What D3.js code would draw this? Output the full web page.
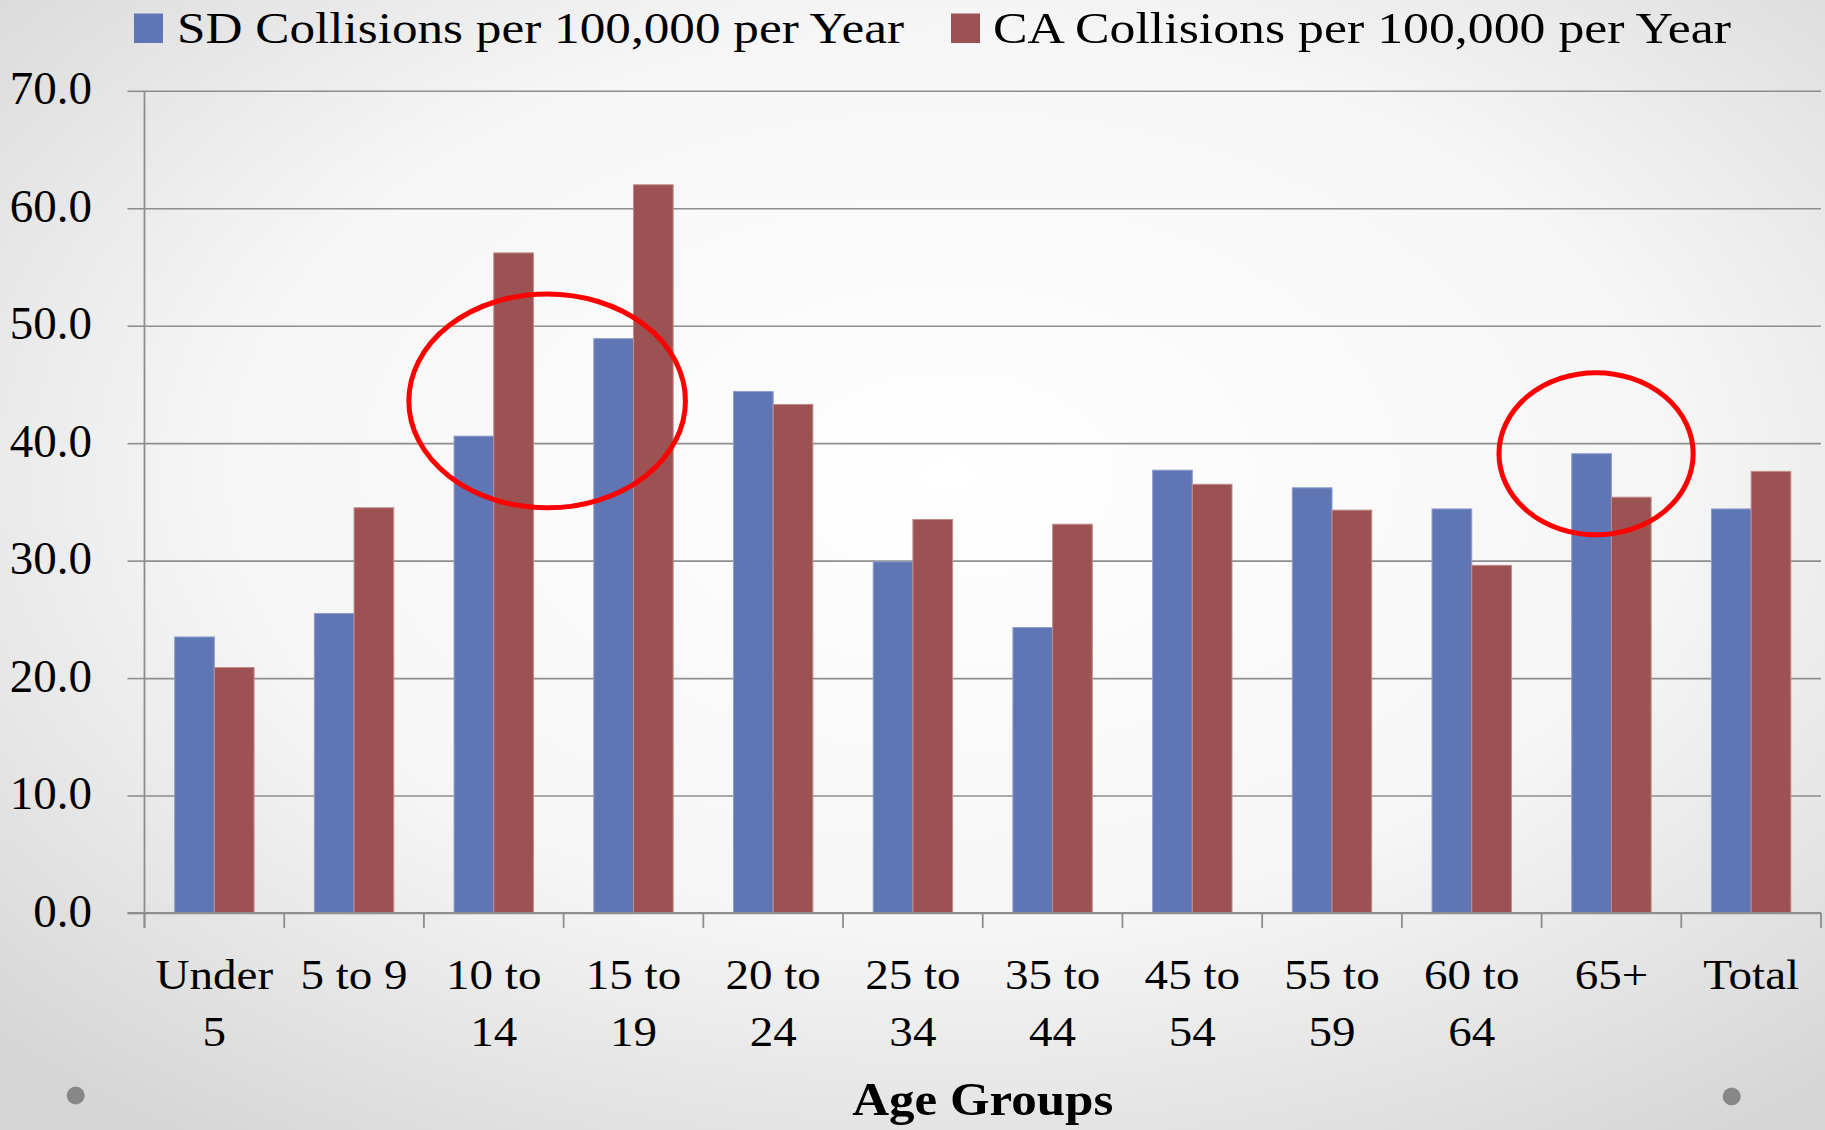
<!DOCTYPE html>
<html>
<head>
<meta charset="utf-8">
<script src="https://cdn.jsdelivr.net/npm/d3@7"></script>
<style>
  html, body { margin: 0; padding: 0; }
  svg { display: block; }
  text { font-family: "Liberation Serif", "Times New Roman", serif; fill: #000; }
</style>
</head>
<body>
<svg id="chart" width="1825" height="1130"></svg>
<script>
// Age groups along the x axis, with their two-line tick labels
const categories = ["Under 5", "5 to 9", "10 to 14", "15 to 19", "20 to 24", "25 to 34",
                    "35 to 44", "45 to 54", "55 to 59", "60 to 64", "65+", "Total"];
const tickLabels = [["Under", "5"], ["5 to 9"], ["10 to", "14"], ["15 to", "19"], ["20 to", "24"],
                    ["25 to", "34"], ["35 to", "44"], ["45 to", "54"], ["55 to", "59"],
                    ["60 to", "64"], ["65+"], ["Total"]];

// Collisions per 100,000 per year
const seriesNames = ["SD Collisions per 100,000 per Year", "CA Collisions per 100,000 per Year"];
const sdValues = [23.5, 25.5, 40.6, 48.9, 44.4, 29.9, 24.3, 37.7, 36.2, 34.4, 39.1, 34.4];
const caValues = [20.9, 34.5, 56.2, 62.0, 43.3, 33.5, 33.1, 36.5, 34.3, 29.6, 35.4, 37.6];

const yTicks = [0, 10, 20, 30, 40, 50, 60, 70];
const axisTitle = "Age Groups";

// Groups singled out with a red ring
const highlights = ["15 to 19", "65+"];

const svg = d3.select("#chart");
const W = 1825, H = 1130;

// Soft grey backdrop, lighter toward the middle
const defs = svg.append("defs");
const grad = defs.append("radialGradient").attr("id", "bg")
  .attr("cx", "52%").attr("cy", "42%").attr("r", "72%");
grad.append("stop").attr("offset", "0%").attr("stop-color", "#ffffff");
grad.append("stop").attr("offset", "55%").attr("stop-color", "#f6f6f6");
grad.append("stop").attr("offset", "100%").attr("stop-color", "#d6d6d6");
svg.append("rect").attr("width", W).attr("height", H).attr("fill", "url(#bg)");

const plot = { left: 144.5, right: 1821, top: 90.8, bottom: 913 };

const x = d3.scaleBand().domain(categories).range([plot.left, plot.right]).padding(0);
const xs = d3.scaleBand().domain(["SD", "CA"]).range([0, x.bandwidth()])
  .paddingInner(0).paddingOuter(0.76);
const y = d3.scaleLinear().domain([0, 70]).range([plot.bottom, plot.top]);

const colors = { SD: "#6076b4", CA: "#9c5252" };
const edges = { SD: "#8d9dcc", CA: "#c18c8c" };

// Horizontal gridlines with short ticks on the left
const gridG = svg.append("g")
  .attr("transform", `translate(${plot.left},0)`)
  .call(d3.axisLeft(y).tickValues(yTicks).tickSize(-(plot.right - plot.left)).tickFormat(""));
gridG.select(".domain").remove();
gridG.selectAll(".tick line").attr("stroke", "#8e8e8e").attr("stroke-width", 1.6);
gridG.selectAll(".tick").append("line")
  .attr("x1", -17).attr("x2", 0).attr("stroke", "#8e8e8e").attr("stroke-width", 1.6);

// Y tick labels
svg.append("g").selectAll("text").data(yTicks).join("text")
  .attr("x", 92).attr("y", d => y(d) + 13.5)
  .attr("text-anchor", "end")
  .attr("font-size", 47)
  .text(d => d.toFixed(1));

// Bars
const rows = categories.map((c, i) => ({ cat: c, SD: sdValues[i], CA: caValues[i] }));
const groups = svg.append("g").selectAll("g").data(rows).join("g")
  .attr("transform", d => `translate(${x(d.cat)},0)`);
groups.selectAll("rect").data(d => ["SD", "CA"].map(k => ({ key: k, value: d[k] }))).join("rect")
  .attr("x", d => xs(d.key))
  .attr("y", d => y(d.value))
  .attr("width", xs.bandwidth())
  .attr("height", d => y(0) - y(d.value))
  .attr("fill", d => colors[d.key])
  .attr("stroke", d => edges[d.key])
  .attr("stroke-width", 1);

// Y axis line
svg.append("line")
  .attr("x1", plot.left).attr("x2", plot.left)
  .attr("y1", plot.top).attr("y2", plot.bottom + 15)
  .attr("stroke", "#8e8e8e").attr("stroke-width", 1.8);

// X axis with ticks at category boundaries
svg.append("line")
  .attr("x1", plot.left - 17).attr("x2", plot.right)
  .attr("y1", plot.bottom).attr("y2", plot.bottom)
  .attr("stroke", "#8e8e8e").attr("stroke-width", 1.8);
const boundaries = categories.map(c => x(c)).concat([plot.right]);
svg.append("g").selectAll("line").data(boundaries).join("line")
  .attr("x1", d => d).attr("x2", d => d)
  .attr("y1", plot.bottom).attr("y2", plot.bottom + 15)
  .attr("stroke", "#8e8e8e").attr("stroke-width", 1.8);

// Stretch a text node horizontally by a factor, keeping its glyphs
function widen(sel, factor) {
  sel.each(function () {
    const w = this.getComputedTextLength();
    d3.select(this).attr("textLength", w * factor).attr("lengthAdjust", "spacingAndGlyphs");
  });
}

// Category labels
const lab = svg.append("g").selectAll("g").data(categories).join("g");
lab.each(function (c, i) {
  const g = d3.select(this);
  tickLabels[i].forEach((line, j) => {
    g.append("text")
      .attr("x", x(c) + x.bandwidth() / 2)
      .attr("y", 989 + j * 57)
      .attr("text-anchor", "middle")
      .attr("font-size", 42)
      .text(line)
      .call(widen, 1.12);
  });
});

// Axis title
svg.append("text")
  .attr("x", (plot.left + plot.right) / 2)
  .attr("y", 1115)
  .attr("text-anchor", "middle")
  .attr("font-size", 46)
  .attr("font-weight", "bold")
  .attr("textLength", 261).attr("lengthAdjust", "spacingAndGlyphs")
  .text(axisTitle);

// Legend
const legend = [
  { key: "SD", name: seriesNames[0], sx: 134, tx: 177, len: 727 },
  { key: "CA", name: seriesNames[1], sx: 951, tx: 993, len: 738 }
];
const lg = svg.append("g").selectAll("g").data(legend).join("g");
lg.append("rect")
  .attr("x", d => d.sx).attr("y", 13.5).attr("width", 29).attr("height", 29.5)
  .attr("fill", d => colors[d.key]);
lg.append("text")
  .attr("x", d => d.tx).attr("y", 43.3)
  .attr("font-size", 45)
  .attr("textLength", d => d.len).attr("lengthAdjust", "spacingAndGlyphs")
  .text(d => d.name);

// Red rings around highlighted groups (offset and radius in band steps / data units)
const step = x.step();
const ringSpecs = [
  { at: highlights[0], dx: -0.118, cyVal: 43.6, rxSteps: 0.99, ryVal: 9.1 },
  { at: highlights[1], dx: 0.39, cyVal: 39.1, rxSteps: 0.695, ryVal: 6.9 }
];
svg.append("g").selectAll("ellipse").data(ringSpecs).join("ellipse")
  .attr("cx", d => x(d.at) + d.dx * step)
  .attr("cy", d => y(d.cyVal))
  .attr("rx", d => d.rxSteps * step)
  .attr("ry", d => y(0) - y(d.ryVal))
  .attr("fill", "none")
  .attr("stroke", "#ff0000")
  .attr("stroke-width", 5);

// Slide bullet dots
svg.append("g").selectAll("circle").data([[75.7, 1095.5], [1731.7, 1096.5]]).join("circle")
  .attr("cx", d => d[0]).attr("cy", d => d[1]).attr("r", 9)
  .attr("fill", "#878787");
</script>
</body>
</html>
